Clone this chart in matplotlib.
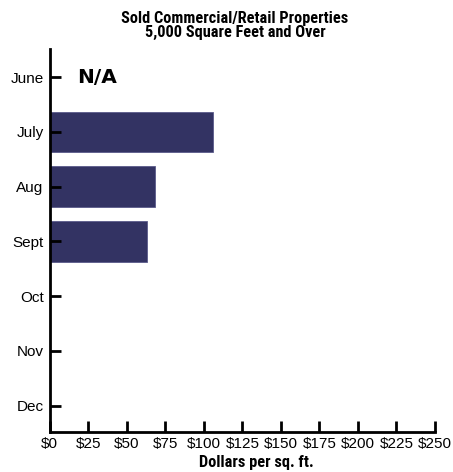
import matplotlib.pyplot as plt
import numpy as np
import logging

logging.getLogger('matplotlib.font_manager').setLevel(logging.ERROR)

# monthly average sale price, dollars per sq. ft. (June had no sales)
months = ['June', 'July', 'Aug', 'Sept', 'Oct', 'Nov', 'Dec']
price = [np.nan, 106, 68, 63, np.nan, np.nan, np.nan]
xticks = [0, 25, 50, 75, 100, 125, 150, 175, 200, 225, 250]

plt.rcParams['font.family'] = ['Liberation Sans', 'DejaVu Sans']

fig = plt.figure(figsize=(4.53, 4.72), dpi=100)
ax = fig.add_axes([0.110, 0.085, 0.850, 0.811])

y = np.arange(len(months))
vals = np.nan_to_num(price)
ax.barh(y, vals, height=0.74, color='#333363', edgecolor='#5a5a8a', linewidth=0.6)

ax.set_xlim(0, 250)
ax.set_ylim(6.48, -0.51)
ax.set_yticks(y)
ax.set_yticklabels(months, fontsize=11)
ax.set_xticks(xticks)
ax.set_xticklabels(['$%d' % v for v in xticks], fontsize=11)

for s in ['top', 'right']:
    ax.spines[s].set_visible(False)
for s in ['left', 'bottom']:
    ax.spines[s].set_linewidth(2)
ax.tick_params(axis='both', direction='in', length=8, width=2)
ax.tick_params(axis='y', pad=4.5)
ax.tick_params(axis='x', pad=4)

ax.text(17.5, 0, 'N/A', fontsize=14.5, fontweight='bold', family='DejaVu Sans',
        va='center', ha='left')

# condensed bold for the headings, whichever is installed
cond = ['Roboto Condensed', 'Open Sans Condensed', 'Liberation Sans Narrow', 'Liberation Sans']
fig.text(0.519, 0.976, 'Sold Commercial/Retail Properties\n5,000 Square Feet and Over',
         ha='center', va='top', fontsize=11.7, fontweight='bold', family=cond, linespacing=0.92)
fig.text(0.565, 0.004, 'Dollars per sq. ft.', ha='center', va='bottom',
         fontsize=11.8, fontweight='bold', family=cond)

fig.savefig('out.png', dpi=100)
